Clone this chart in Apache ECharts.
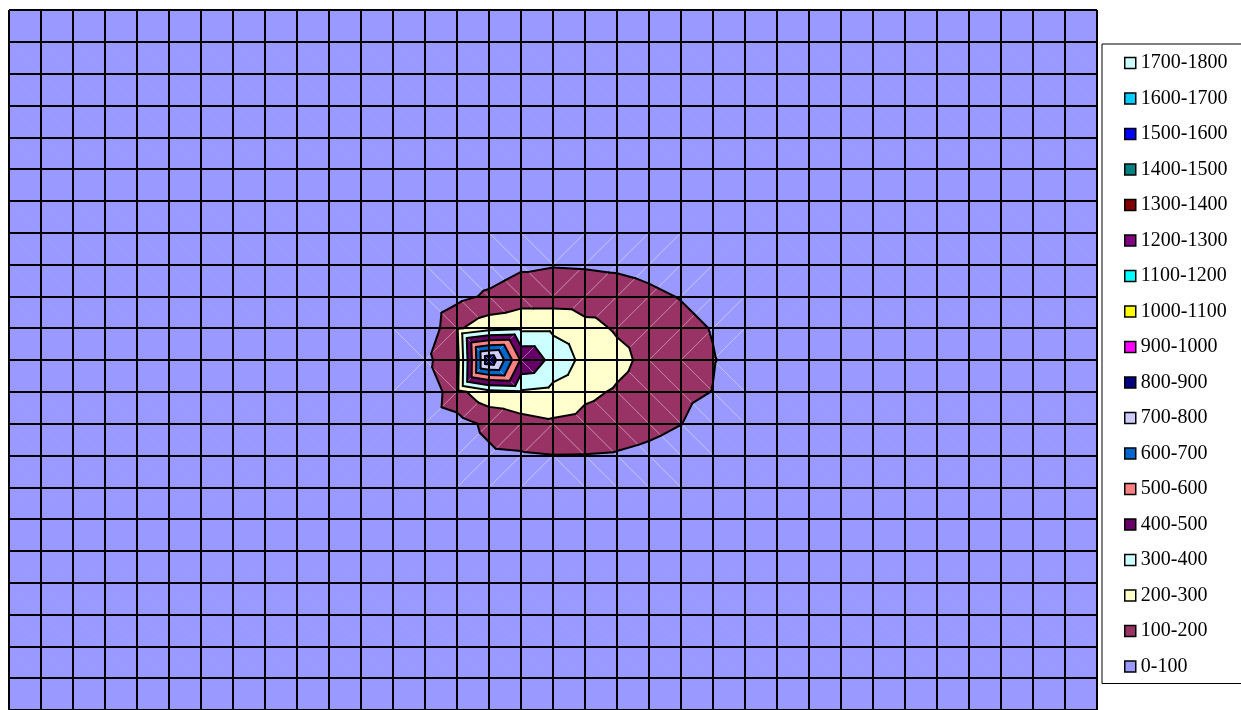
<!DOCTYPE html>
<html>
<head>
<meta charset="utf-8">
<script src="https://cdn.jsdelivr.net/npm/echarts@6/dist/echarts.min.js"></script>
<style>
  html, body { margin: 0; padding: 0; background: #ffffff; }
  #chart { width: 1241px; height: 710px; }
</style>
</head>
<body>
<div id="chart"></div>
<script>
// Contour bands (value ranges) shown in the legend, lowest first.
const bandLabels = ['0-100', '100-200', '200-300', '300-400', '400-500', '500-600',
  '600-700', '700-800', '800-900', '900-1000', '1000-1100', '1100-1200',
  '1200-1300', '1300-1400', '1400-1500', '1500-1600', '1600-1700', '1700-1800'];
const bandEdges = [0, 100, 200, 300, 400, 500, 600, 700, 800, 900, 1000,
  1100, 1200, 1300, 1400, 1500, 1600, 1700, 1800];

// Surface size in grid nodes (columns x rows); nodes outside the block below are 0.
const nodeColumns = 35;
const nodeRows = 23;
const blockFirstColumn = 11;
const blockFirstRow = 7;

// Surface heights for columns 11..24, one array per node row.
const heightsRow07 = [0, 0, 5, 10, 25, 35, 40, 40, 35, 30, 20, 10, 0, 0];
const heightsRow08 = [0, 5, 10, 30, 50, 85, 95, 92, 85, 70, 45, 20, 5, 0];
const heightsRow09 = [5, 10, 10, 72, 115, 150, 150, 145, 140, 120, 95, 60, 25, 5];
const heightsRow10 = [10, 25, 25, 185, 260, 280, 280, 230, 190, 160, 130, 95, 45, 10];
const heightsRow11 = [15, 50, 80, 160, 890, 490, 370, 270, 225, 175, 140, 105, 65, 20];
const heightsRow12 = [10, 20, 15, 170, 270, 290, 270, 220, 190, 155, 125, 98, 40, 10];
const heightsRow13 = [5, 15, 25, 62, 122, 160, 185, 170, 150, 130, 102, 55, 20, 5];
const heightsRow14 = [0, 10, 20, 45, 84, 90, 98, 97, 92, 75, 50, 25, 5, 0];
const heightsRow15 = [0, 0, 5, 15, 30, 40, 45, 45, 40, 30, 15, 5, 0, 0];

const bandColors = ['#9999FF', '#993366', '#FFFFCC', '#CCFFFF', '#660066', '#FF8080',
  '#0066CC', '#CCCCFF', '#000080', '#FF00FF', '#FFFF00', '#00FFFF',
  '#800080', '#800000', '#008080', '#0000FF', '#00CCFF', '#CCFFFF'];

// ---- build the node grid ----
const blockRows = [heightsRow07, heightsRow08, heightsRow09, heightsRow10, heightsRow11,
  heightsRow12, heightsRow13, heightsRow14, heightsRow15];
const surface = [];
for (let r = 0; r < nodeRows; r++) {
  const row = [];
  for (let c = 0; c < nodeColumns; c++) row.push(0);
  surface.push(row);
}
blockRows.forEach((vals, i) => {
  vals.forEach((v, j) => { surface[blockFirstRow + i][blockFirstColumn + j] = v; });
});

// ---- split every cell into two triangles along the diagonal through its highest corner ----
const seamMinHeight = 70; // seams show only on the raised part of the surface
const triangles = [];
const seams = [];
for (let r = 0; r < nodeRows - 1; r++) {
  for (let c = 0; c < nodeColumns - 1; c++) {
    const a = [c, r, surface[r][c]];
    const b = [c + 1, r, surface[r][c + 1]];
    const d = [c, r + 1, surface[r + 1][c]];
    const e = [c + 1, r + 1, surface[r + 1][c + 1]];
    const top = Math.max(a[2], b[2], d[2], e[2]);
    const showSeam = top >= seamMinHeight;
    if (a[2] === top || e[2] === top) {
      triangles.push([a, b, e], [a, e, d]);
      if (showSeam) seams.push([a, e]);
    } else {
      triangles.push([a, b, d], [b, e, d]);
      if (showSeam) seams.push([b, d]);
    }
  }
}

function clipPoly(poly, level, keepAbove) {
  const out = [];
  for (let i = 0; i < poly.length; i++) {
    const p = poly[i], q = poly[(i + 1) % poly.length];
    const pin = keepAbove ? p[2] >= level : p[2] <= level;
    const qin = keepAbove ? q[2] >= level : q[2] <= level;
    if (pin) out.push(p);
    if (pin !== qin) {
      const t = (level - p[2]) / (q[2] - p[2]);
      out.push([p[0] + t * (q[0] - p[0]), p[1] + t * (q[1] - p[1]), level]);
    }
  }
  return out;
}

function polyArea(poly) {
  let s = 0;
  for (let i = 0; i < poly.length; i++) {
    const p = poly[i], q = poly[(i + 1) % poly.length];
    s += p[0] * q[1] - q[0] * p[1];
  }
  return Math.abs(s) / 2;
}

function bandSeries(k) {
  const lo = bandEdges[k], hi = bandEdges[k + 1], color = bandColors[k];
  return {
    type: 'custom',
    name: bandLabels[k],
    coordinateSystem: 'cartesian2d',
    itemStyle: { color: color },
    silent: true,
    clip: true,
    z: 2,
    data: [[0, 0]],
    renderItem: function (params, api) {
      const children = [];
      for (const tri of triangles) {
        let poly = clipPoly(tri, lo, true);
        if (poly.length < 3) continue;
        poly = clipPoly(poly, hi, false);
        if (poly.length < 3 || polyArea(poly) < 1e-7) continue;
        children.push({
          type: 'polygon',
          shape: { points: poly.map(p => api.coord([p[0], p[1]])) },
          style: { fill: color, stroke: color, lineWidth: 0.8 }
        });
      }
      return { type: 'group', children: children };
    }
  };
}

// Faint triangulation seams on the sloped part of the surface.
const seamSeries = {
  type: 'custom',
  coordinateSystem: 'cartesian2d',
  silent: true,
  clip: true,
  z: 3,
  data: [[0, 0]],
  renderItem: function (params, api) {
    return {
      type: 'group',
      children: seams.map(s => {
        const p = api.coord([s[0][0], s[0][1]]), q = api.coord([s[1][0], s[1][1]]);
        return {
          type: 'line',
          shape: { x1: p[0], y1: p[1], x2: q[0], y2: q[1] },
          style: { stroke: 'rgba(255,255,255,0.4)', lineWidth: 1 }
        };
      })
    };
  }
};

// Black boundary lines at each band edge.
const contourSeries = {
  type: 'custom',
  coordinateSystem: 'cartesian2d',
  silent: true,
  clip: true,
  z: 4,
  data: [[0, 0]],
  renderItem: function (params, api) {
    const children = [];
    for (let k = 1; k < bandEdges.length - 1; k++) {
      const L = bandEdges[k];
      for (const tri of triangles) {
        const pts = [];
        for (let i = 0; i < 3; i++) {
          const p = tri[i], q = tri[(i + 1) % 3];
          const pa = p[2] >= L, qa = q[2] >= L;
          if (pa !== qa) {
            const t = (L - p[2]) / (q[2] - p[2]);
            pts.push([p[0] + t * (q[0] - p[0]), p[1] + t * (q[1] - p[1])]);
          }
        }
        if (pts.length === 2) {
          const p = api.coord(pts[0]), q = api.coord(pts[1]);
          children.push({
            type: 'line',
            shape: { x1: p[0], y1: p[1], x2: q[0], y2: q[1] },
            style: { stroke: '#000', lineWidth: 2, lineCap: 'round' }
          });
        }
      }
    }
    return { type: 'group', children: children };
  }
};

const series = bandLabels.map((_, k) => bandSeries(k));
series.push(seamSeries, contourSeries);

const chart = echarts.init(document.getElementById('chart'), null, { renderer: 'canvas' });
chart.setOption({
  animation: false,
  backgroundColor: '#ffffff',
  grid: { left: 9, top: 10, width: 1088, height: 704 },
  xAxis: {
    type: 'value', min: 0, max: nodeColumns - 1, interval: 1, z: 10,
    axisLine: { show: false }, axisTick: { show: false }, axisLabel: { show: false },
    splitLine: { show: true, lineStyle: { color: '#000', width: 2 } }
  },
  yAxis: {
    type: 'value', inverse: true, min: 0, max: nodeRows - 1, interval: 1, z: 10,
    axisLine: { show: false }, axisTick: { show: false }, axisLabel: { show: false },
    splitLine: { show: true, lineStyle: { color: '#000', width: 2 } }
  },
  legend: {
    data: bandLabels.slice().reverse(),
    orient: 'vertical',
    left: 1102,
    top: 44,
    padding: [9, 40, 7, 22],
    itemWidth: 11,
    itemHeight: 11,
    itemGap: 15.5,
    icon: 'rect',
    selectedMode: false,
    borderColor: '#000',
    borderWidth: 1,
    itemStyle: { borderColor: '#000', borderWidth: 1.5 },
    textStyle: { fontFamily: 'Liberation Serif', fontSize: 20, color: '#000', lineHeight: 20 }
  },
  series: series
});
</script>
</body>
</html>
